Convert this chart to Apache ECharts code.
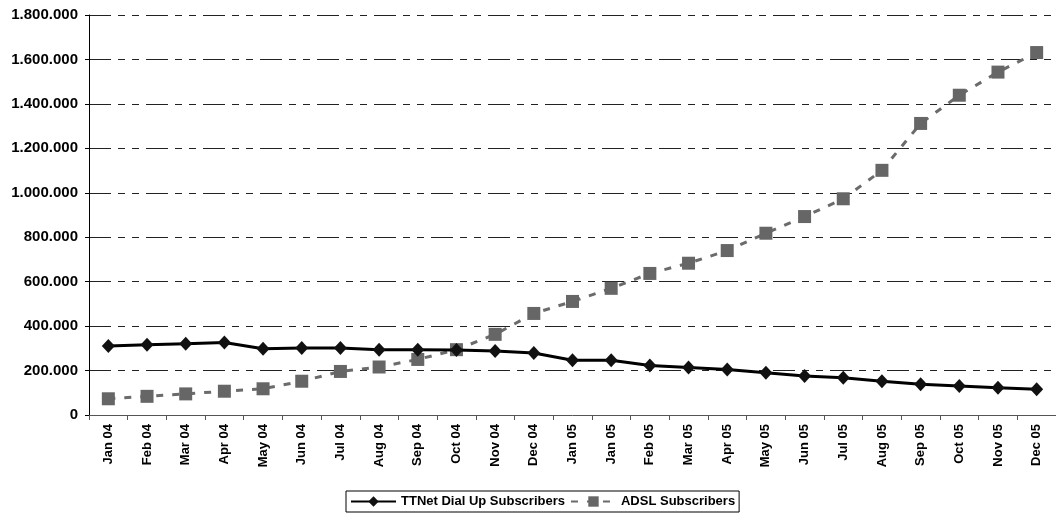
<!DOCTYPE html>
<html>
<head>
<meta charset="utf-8">
<script src="https://cdn.jsdelivr.net/npm/echarts@6/dist/echarts.min.js"></script>
<style>
html,body{margin:0;padding:0;background:#fff;}
#chart{width:1056px;height:516px;}
</style>
</head>
<body>
<div id="chart"></div>
<script>
var categories = ['Jan 04','Feb 04','Mar 04','Apr 04','May 04','Jun 04','Jul 04','Aug 04','Sep 04','Oct 04','Nov 04','Dec 04','Jan 05','Jan 05','Feb 05','Mar 05','Apr 05','May 05','Jun 05','Jul 05','Aug 05','Sep 05','Oct 05','Nov 05','Dec 05'];
var dialUp = [310000,316000,321000,326000,298000,302000,302000,294000,294000,293000,288000,279000,246000,246000,223000,214000,205000,190000,175000,168000,152000,138000,131000,123000,116000];
var adsl = [73000,84000,95000,107000,118000,152000,196000,216000,250000,294000,363000,457000,511000,570000,637000,683000,740000,818000,893000,973000,1101000,1312000,1439000,1543000,1631000];
var yTicks = {min:0, max:1800000, interval:200000};

function fmt(v){
  var s = String(Math.round(v));
  return s.replace(/\B(?=(\d{3})+(?!\d))/g, '.');
}

var chart = echarts.init(document.getElementById('chart'), null, {renderer:'canvas'});
chart.setOption({
  animation:false,
  backgroundColor:'#fff',
  textStyle:{fontFamily:'"Liberation Sans", Arial, sans-serif'},
  grid:{left:89, right:-5, top:15, bottom:101, containLabel:false},
  xAxis:{
    type:'category',
    data:categories,
    boundaryGap:true,
    axisLine:{lineStyle:{color:'#555', width:1}},
    axisTick:{show:true, length:5, lineStyle:{color:'#555'}},
    axisLabel:{rotate:90, interval:0, margin:9, fontSize:13, fontWeight:'bold', color:'#000'},
    splitLine:{show:false}
  },
  yAxis:{
    type:'value',
    min:yTicks.min, max:yTicks.max, interval:yTicks.interval,
    axisLine:{show:true, lineStyle:{color:'#000', width:1}},
    axisTick:{show:true, length:4, lineStyle:{color:'#000'}},
    axisLabel:{fontSize:15, fontWeight:'bold', color:'#000', margin:11, formatter:fmt},
    splitLine:{show:true, lineStyle:{color:'#222', width:1, type:[22,7,7,7,7,7]}}
  },
  legend:{
    show:true,
    bottom:4,
    left:346,
    orient:'horizontal',
    padding:[4,4,4,4],
    borderColor:'#000',
    borderWidth:1,
    itemWidth:45,
    itemHeight:13,
    itemGap:5,
    textStyle:{fontSize:13, fontWeight:'bold', color:'#000'},
    data:['TTNet Dial Up Subscribers','ADSL Subscribers']
  },
  series:[
    {
      name:'TTNet Dial Up Subscribers',
      type:'line',
      data:dialUp,
      symbol:'diamond',
      symbolSize:[13,14],
      lineStyle:{color:'#000', width:3},
      itemStyle:{color:'#111'},
      z:3
    },
    {
      name:'ADSL Subscribers',
      type:'line',
      data:adsl,
      symbol:'rect',
      symbolSize:13,
      lineStyle:{color:'#6b6b6b', width:3, type:[7,9]},
      itemStyle:{color:'#666'},
      z:2
    }
  ]
});
</script>
</body>
</html>
